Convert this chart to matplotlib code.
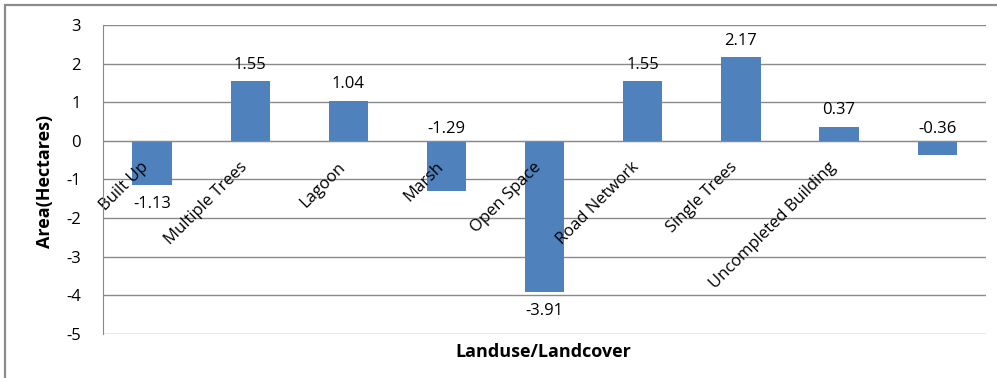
import matplotlib.pyplot as plt
from matplotlib.patches import Rectangle

categories = ['Built Up', 'Multiple Trees', 'Lagoon', 'Marsh', 'Open Space',
              'Road Network', 'Single Trees', 'Uncompleted Building', '']
values = [-1.13, 1.55, 1.04, -1.29, -3.91, 1.55, 2.17, 0.37, -0.36]
# labels that sit just above the zero line instead of at the bar end
above_zero = ['Marsh', '']

plt.rcParams['font.family'] = ['Open Sans', 'DejaVu Sans']
plt.rcParams['axes.unicode_minus'] = False
narrow = ['Liberation Sans Narrow', 'Open Sans', 'DejaVu Sans']

fig = plt.figure(figsize=(9.97, 3.78), dpi=100)
ax = fig.add_axes([0.1033, 0.1164, 0.886, 0.8175])

# outer chart border
fig.patches.append(Rectangle((5 / 997, -0.05), 1.05, 1 - 5 / 378 + 0.05,
                             transform=fig.transFigure, fill=False,
                             edgecolor='#8c8c8c', lw=1.6))

x = range(len(categories))
ax.bar(x, values, width=0.4, color='#4f81bd', zorder=1)

ax.set_xlim(-0.5, len(categories) - 0.5)
ax.set_ylim(-5, 3)
ax.set_yticks(range(-5, 4))
for t in range(-5, 4):
    ax.axhline(t, color='#8a8a8a', lw=1, zorder=0.5)

for s in ['top', 'right']:
    ax.spines[s].set_visible(False)
ax.spines['left'].set_color('#8a8a8a')
ax.spines['bottom'].set_position(('data', 0))
ax.spines['bottom'].set_color('#8a8a8a')

ax.set_xticks(list(x))
ax.set_xticklabels(categories, rotation=45, ha='right', va='top', fontsize=12)
ax.tick_params(axis='x', length=0, pad=13)
ax.tick_params(axis='y', length=0, pad=16, labelsize=12)

for i, v in enumerate(values):
    if categories[i] in above_zero:
        ax.annotate(f'{v:.2f}', (i, 0), xytext=(0, 3), textcoords='offset points',
                    ha='center', va='bottom', fontsize=12, zorder=4)
    elif v >= 0:
        ax.annotate(f'{v:.2f}', (i, v), xytext=(0, 6), textcoords='offset points',
                    ha='center', va='bottom', fontsize=12, zorder=4)
    else:
        ax.annotate(f'{v:.2f}', (i, v), xytext=(0, -8), textcoords='offset points',
                    ha='center', va='top', fontsize=12, zorder=4)

fig.text(0.545, 0.068, 'Landuse/Landcover', ha='center', va='center',
         fontsize=13, fontweight='bold', family=narrow)
fig.text(0.045, 0.52, 'Area(Hectares)', ha='center', va='center',
         rotation=90, fontsize=13, fontweight='bold', family=narrow)

fig.savefig('out.png', dpi=100)
